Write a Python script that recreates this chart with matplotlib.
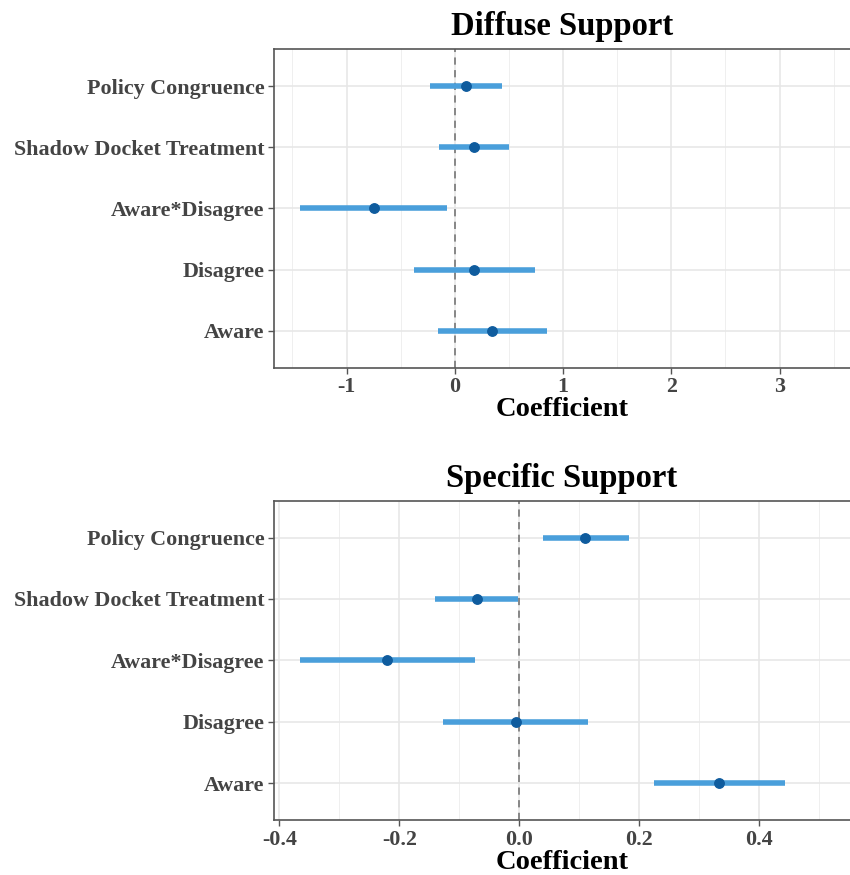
import matplotlib
matplotlib.use("Agg")
import matplotlib.pyplot as plt
from matplotlib.ticker import FormatStrFormatter, MultipleLocator
import numpy as np

plt.rcParams['font.family'] = ['Liberation Serif', 'DejaVu Serif']
plt.rcParams['axes.unicode_minus'] = False

# 係數與信賴區間 (由下往上)
labels = ["Aware", "Disagree", "Aware*Disagree", "Shadow Docket Treatment", "Policy Congruence"]

diffuse_est = [0.345, 0.181, -0.749, 0.174, 0.106]
diffuse_lo = [-0.157, -0.380, -1.426, -0.144, -0.230]
diffuse_hi = [0.851, 0.742, -0.068, 0.496, 0.440]

specific_est = [0.333, -0.006, -0.220, -0.071, 0.110]
specific_lo = [0.225, -0.127, -0.365, -0.140, 0.040]
specific_hi = [0.442, 0.115, -0.074, -0.003, 0.182]

fig = plt.figure(figsize=(8.5, 8.75), dpi=100)
ax1 = fig.add_axes([0.3224, 0.5798, 0.6776, 0.3639])
ax2 = fig.add_axes([0.3224, 0.0629, 0.6776, 0.3649])

panels = [
    (ax1, "Diffuse Support", diffuse_est, diffuse_lo, diffuse_hi, (-1.67, 3.65), 1.0, 0.5, "%d"),
    (ax2, "Specific Support", specific_est, specific_lo, specific_hi, (-0.409, 0.551), 0.2, 0.1, "%.1f"),
]

y = np.arange(1, len(labels) + 1)
for ax, title, est, lo, hi, xlim, major, minor, fmt in panels:
    ax.set_xlim(*xlim)
    ax.set_ylim(0.4, len(labels) + 0.6)
    ax.xaxis.set_major_locator(MultipleLocator(major))
    ax.xaxis.set_minor_locator(MultipleLocator(minor))
    ax.xaxis.set_major_formatter(FormatStrFormatter(fmt))
    ax.set_yticks(y)
    ax.set_yticklabels(labels)
    ax.grid(True, which='major', color='#e6e6e6', linewidth=1.1, zorder=0)
    ax.grid(True, which='minor', axis='x', color='#ececec', linewidth=0.6, zorder=0)
    ax.set_axisbelow(True)
    ax.axvline(0, color='#7f7f7f', linestyle=(0, (4, 3)), linewidth=1.3, zorder=1)
    ax.hlines(y, lo, hi, color='#4a9fdb', linewidth=4.0, zorder=2)
    ax.plot(est, y, 'o', color='#0f5c9e', markersize=6.8, zorder=3)
    for s in ax.spines.values():
        s.set_color('#555555')
        s.set_linewidth(1.2)
    ax.spines['right'].set_visible(False)  # 原圖右框被裁掉
    ax.tick_params(which='major', length=4, width=1, color='#555555', labelcolor='#444444', pad=3)
    ax.tick_params(which='minor', length=0)
    for t in ax.get_xticklabels() + ax.get_yticklabels():
        t.set_fontweight('bold')
        t.set_fontsize(15.8)
    ax.set_xlabel("Coefficient", fontsize=20.5, fontweight='bold', labelpad=0)
    ax.set_title(title, fontsize=23.5, fontweight='bold', pad=10)

fig.savefig('out.png', dpi=100)
